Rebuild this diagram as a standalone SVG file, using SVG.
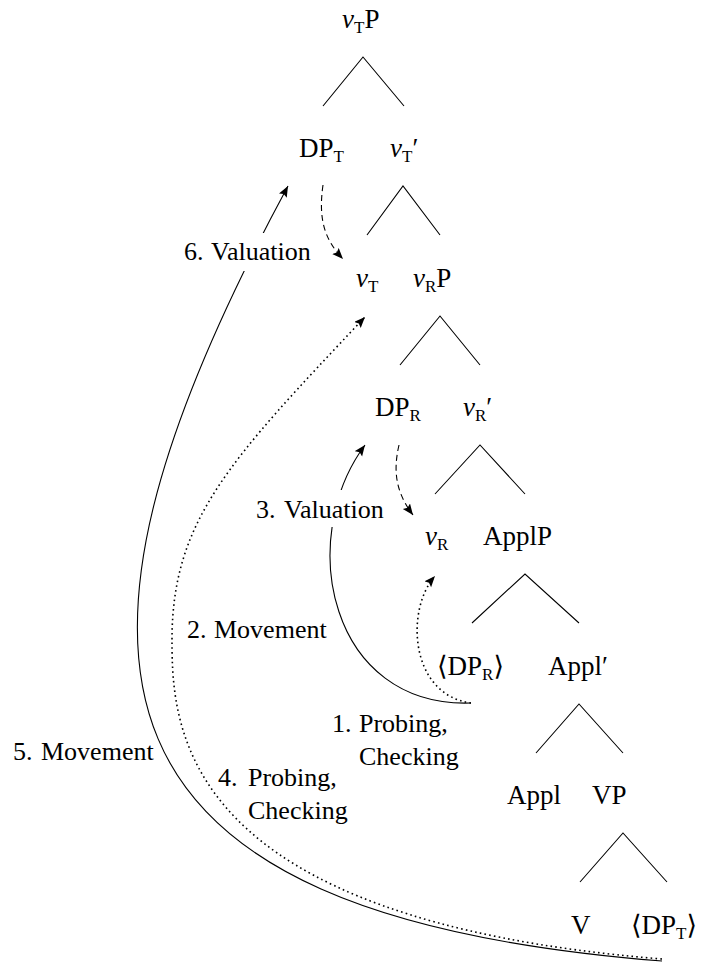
<svg xmlns="http://www.w3.org/2000/svg" width="701" height="962" viewBox="0 0 701 962">
<style>
text{font-family:"Liberation Serif","DejaVu Serif",serif;font-size:26px;fill:#000}
.n{font-size:27px}
.i{font-style:italic}
.s{font-size:17px}
.e{stroke:#000;stroke-width:1.1;fill:none}
.sol{stroke:#000;stroke-width:1.1;fill:none}
.dot{stroke:#000;stroke-width:1.6;fill:none;stroke-dasharray:1.6 3.2}
.dash{stroke:#000;stroke-width:1.1;fill:none;stroke-dasharray:6 4}
.bg{fill:#fff}
</style>
<defs>
<marker id="ah" markerUnits="userSpaceOnUse" markerWidth="12" markerHeight="10" refX="11" refY="4.5" orient="auto">
<path d="M0,0 L11,4.5 L0,9 L2,4.5 z" fill="#000"/>
</marker>
</defs>
<rect width="701" height="962" fill="#fff"/>
<g id="connectors">
<g id="tree-edges">
<path class="e" d="M323,106 L363,57 L404,106"/>
<path class="e" d="M367,235 L403,186 L440,235"/>
<path class="e" d="M400,365 L440,316 L480,365"/>
<path class="e" d="M435,494 L480,445 L525,494"/>
<path class="e" d="M472,623 L525,574 L579,623"/>
<path class="e" d="M536,753 L579,704 L623,753"/>
<path class="e" d="M580,882 L623,833 L667,882"/>
</g>
<path class="sol" d="M662,961 C80,915 25,673 288,186" marker-end="url(#ah)"/>
<path class="dot" d="M662,959 C180,920 172,730 172,640 C172,520 230,460 365,317" marker-end="url(#ah)"/>
<path class="sol" d="M471,703 C330,708 295,540 365,445" marker-end="url(#ah)"/>
<path class="dot" d="M471,703 C410,695 405,610 435,576" marker-end="url(#ah)"/>
<path class="dash" d="M323,185 C318,220 325,240 343,259" marker-end="url(#ah)"/>
<path class="dash" d="M399,445 C392,475 398,495 413,515" marker-end="url(#ah)"/>
</g>
<g id="labels">
<rect class="bg" x="180" y="233" width="136" height="38"/>
<text y="260"><tspan x="184">6.</tspan><tspan x="211">Valuation</tspan></text>
<rect class="bg" x="252" y="490" width="136" height="37"/>
<text y="518"><tspan x="256">3.</tspan><tspan x="284">Valuation</tspan></text>
<text y="638"><tspan x="187">2.</tspan><tspan x="214">Movement</tspan></text>
<text y="760"><tspan x="13">5.</tspan><tspan x="41">Movement</tspan></text>
<text y="732"><tspan x="332">1.</tspan><tspan x="359">Probing,</tspan></text>
<text x="359" y="765">Checking</text>
<text y="786"><tspan x="218">4.</tspan><tspan x="248">Probing,</tspan></text>
<text x="248" y="819">Checking</text>
</g>
<g id="vTP"><text class="n" x="342" y="28"><tspan class="i">v</tspan><tspan class="s" dy="5">T</tspan><tspan dy="-5">P</tspan></text></g>
<g id="DPT"><text class="n" x="299" y="157">DP<tspan class="s" dy="5">T</tspan></text></g>
<g id="vTbar"><text class="n" x="390" y="157"><tspan class="i">v</tspan><tspan class="s" dy="5">T</tspan><tspan dy="-5">′</tspan></text></g>
<g id="vT"><text class="n" x="356" y="287"><tspan class="i">v</tspan><tspan class="s" dy="5">T</tspan></text></g>
<g id="vRP"><text class="n" x="413" y="287"><tspan class="i">v</tspan><tspan class="s" dy="5">R</tspan><tspan dy="-5">P</tspan></text></g>
<g id="DPR"><text class="n" x="375" y="416">DP<tspan class="s" dy="5">R</tspan></text></g>
<g id="vRbar"><text class="n" x="463" y="416"><tspan class="i">v</tspan><tspan class="s" dy="5">R</tspan><tspan dy="-5">′</tspan></text></g>
<g id="vR"><text class="n" x="425" y="545"><tspan class="i">v</tspan><tspan class="s" dy="5">R</tspan></text></g>
<g id="ApplP"><text class="n" x="483" y="545">ApplP</text></g>
<g id="DPRtrace"><text class="n" x="437" y="675">⟨DP<tspan class="s" dy="5">R</tspan><tspan dy="-5">⟩</tspan></text></g>
<g id="Applbar"><text class="n" x="548" y="675">Appl′</text></g>
<g id="Appl"><text class="n" x="507" y="804">Appl</text></g>
<g id="VP"><text class="n" x="592" y="804">VP</text></g>
<g id="V"><text class="n" x="571" y="934">V</text></g>
<g id="DPTtrace"><text class="n" x="631" y="934">⟨DP<tspan class="s" dy="5">T</tspan><tspan dy="-5">⟩</tspan></text></g>
</svg>
